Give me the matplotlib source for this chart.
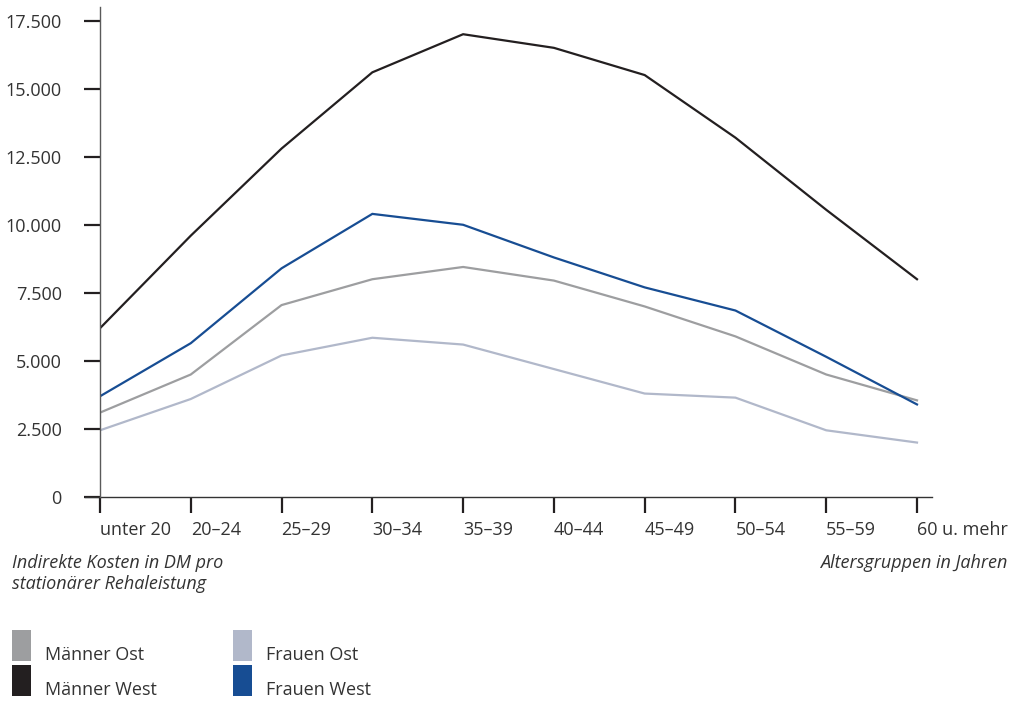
import matplotlib
matplotlib.use("Agg")
import matplotlib.pyplot as plt
from matplotlib.patches import Rectangle
from matplotlib.lines import Line2D

plt.rcParams['font.family'] = ['Open Sans', 'DejaVu Sans']

age_groups = ["unter 20", "20–24", "25–29", "30–34", "35–39",
              "40–44", "45–49", "50–54", "55–59", "60 u. mehr"]

maenner_west = [6200, 9600, 12800, 15600, 17000, 16500, 15500, 13200, 10550, 8000]
frauen_west = [3700, 5650, 8400, 10400, 10000, 8800, 7700, 6850, 5150, 3400]
maenner_ost = [3100, 4500, 7050, 8000, 8450, 7950, 7000, 5900, 4500, 3550]
frauen_ost = [2450, 3600, 5200, 5850, 5600, 4700, 3800, 3650, 2450, 2000]

y_ticks = [0, 2500, 5000, 7500, 10000, 12500, 15000, 17500]
y_tick_labels = ["0", "2.500", "5.000", "7.500", "10.000", "12.500", "15.000", "17.500"]

c_mo = "#9d9ea0"
c_mw = "#231f20"
c_fo = "#b1b8ca"
c_fw = "#174d93"
txt = "#333333"
fs = 13

W, H = 1013, 701
fig = plt.figure(figsize=(W / 100, H / 100), dpi=100)
ax = fig.add_axes([100 / W, (H - 497) / H, (932 - 100) / W, (497 - 7) / H])

x = list(range(len(age_groups)))
ax.plot(x, frauen_ost, color=c_fo, lw=1.6, solid_joinstyle='miter')
ax.plot(x, maenner_ost, color=c_mo, lw=1.6, solid_joinstyle='miter')
ax.plot(x, frauen_west, color=c_fw, lw=1.6, solid_joinstyle='miter')
ax.plot(x, maenner_west, color=c_mw, lw=1.6, solid_joinstyle='miter')

ax.set_xlim(0, 9 + 15 / 90.8)
ax.set_ylim(0, 18000)

for s in ["top", "right", "bottom"]:
    ax.spines[s].set_visible(False)
ax.spines["left"].set_color("#5a5a5a")
ax.spines["left"].set_linewidth(1.0)

# baseline that reaches a little past the y axis
ax.add_line(Line2D([-15 / 90.8, 9 + 15 / 90.8], [0, 0], color="#333333", lw=1.0,
                   clip_on=False, transform=ax.transData))

ax.set_yticks(y_ticks)
ax.set_yticklabels(y_tick_labels)
ax.set_xticks(x)
ax.set_xticklabels(age_groups, ha="left")
ax.tick_params(axis="y", length=11.5, width=1.6, color="#231f20", pad=16,
               labelsize=fs, labelcolor=txt)
ax.tick_params(axis="x", length=11.5, width=1.6, color="#231f20", pad=6,
               labelsize=fs, labelcolor=txt)

fig.text(12 / W, 1 - 554 / H, "Indirekte Kosten in DM pro\nstationärer Rehaleistung",
         style="italic", fontsize=fs, color=txt, va="top", ha="left",
         linespacing=1.2)
fig.text(1007 / W, 1 - 554 / H, "Altersgruppen in Jahren",
         style="italic", fontsize=fs, color=txt, va="top", ha="right")

legend_items = [
    (12, 630, c_mo, "Männer Ost"),
    (12, 665, c_mw, "Männer West"),
    (233, 630, c_fo, "Frauen Ost"),
    (233, 665, c_fw, "Frauen West"),
]
for lx, ly, col, lab in legend_items:
    fig.patches.append(Rectangle((lx / W, 1 - (ly + 31) / H), 19 / W, 31 / H,
                                 transform=fig.transFigure, facecolor=col,
                                 edgecolor="none"))
    fig.text((lx + 33) / W, 1 - (ly + 30) / H, lab, fontsize=fs,
             color=txt, va="baseline", ha="left")

fig.savefig("out.png", dpi=100)
